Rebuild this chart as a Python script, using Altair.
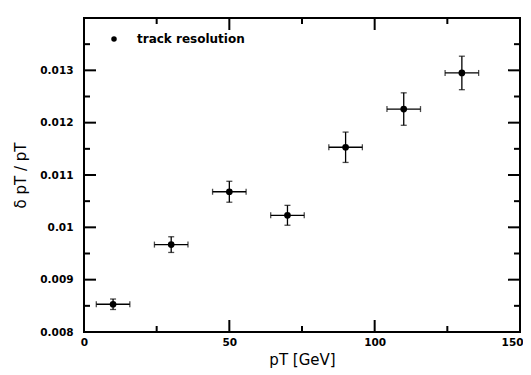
import altair as alt
import pandas as pd

# data
pt = [10, 30, 50, 70, 90, 110, 130]
res = [0.00853, 0.00967, 0.01068, 0.01023, 0.01153, 0.01226, 0.01295]
res_err = [0.00010, 0.00015, 0.00020, 0.00019, 0.00029, 0.00031, 0.00032]
pt_err = [5.77, 5.77, 5.77, 5.77, 5.77, 5.77, 5.77]
series = ["track resolution"] * 7

x_major = [0, 50, 100, 150]
x_minor = [25, 75, 125]
y_major = [0.008, 0.009, 0.010, 0.011, 0.012, 0.013, 0.014]
y_labels = [0.008, 0.009, 0.010, 0.011, 0.012, 0.013]
y_minor = [0.0085, 0.0095, 0.0105, 0.0115, 0.0125, 0.0135]

W, H = 436, 314
MAJ, MIN = 12, 6
FONT = "DejaVu Sans"

df = pd.DataFrame({
    "pt": pt, "res": res, "series": series,
    "ylo": [r - e for r, e in zip(res, res_err)],
    "yhi": [r + e for r, e in zip(res, res_err)],
    "xlo": [p - e for p, e in zip(pt, pt_err)],
    "xhi": [p + e for p, e in zip(pt, pt_err)],
})

xs = alt.Scale(domain=[0, 150], nice=False, zero=False)
ys = alt.Scale(domain=[0.008, 0.014], nice=False, zero=False)
XT = "pT [GeV]"
YT = "δ pT / pT"

XAX = alt.Axis(values=x_major, tickSize=0, domain=False, grid=False,
               labelFont=FONT, labelFontWeight="bold", labelFontSize=10.5,
               labelColor="black", labelPadding=5, labelFlush=False,
               labelAlign=alt.expr("datum.value >= 150 ? 'right' : 'center'"),
               labelOffset=alt.expr("datum.value >= 150 ? 3 : 0"),
               titleFont=FONT, titleFontSize=15, titleFontWeight="normal",
               titleColor="black", titlePadding=5)
YAX = alt.Axis(values=y_labels, format="~g", tickSize=0, domain=False, grid=False,
               labelFont=FONT, labelFontWeight="bold", labelFontSize=10.5,
               labelColor="black", labelPadding=11, labelFlush=False,
               titleFont=FONT, titleFontSize=15, titleFontWeight="normal",
               titleColor="black", titlePadding=11)


def X(field):
    return alt.X(field, scale=xs, axis=XAX, title=XT)


def Y(field):
    return alt.Y(field, scale=ys, axis=YAX, title=YT)


base = alt.Chart(df)

vbar = base.mark_rule(color="black", strokeWidth=1.3).encode(
    x=X("pt:Q"), y=Y("ylo:Q"), y2="yhi:Q")
hbar = base.mark_rule(color="black", strokeWidth=1.3).encode(
    x=X("xlo:Q"), x2="xhi:Q", y=Y("res:Q"))
cap_lo = base.mark_tick(color="black", orient="horizontal", size=6, thickness=1.3).encode(
    x=X("pt:Q"), y=Y("ylo:Q"))
cap_hi = base.mark_tick(color="black", orient="horizontal", size=6, thickness=1.3).encode(
    x=X("pt:Q"), y=Y("yhi:Q"))
cap_l = base.mark_tick(color="black", orient="vertical", size=6, thickness=1.3).encode(
    x=X("xlo:Q"), y=Y("res:Q"))
cap_r = base.mark_tick(color="black", orient="vertical", size=6, thickness=1.3).encode(
    x=X("xhi:Q"), y=Y("res:Q"))

points = base.mark_point(filled=True, size=45, opacity=1, shape="circle").encode(
    x=X("pt:Q"), y=Y("res:Q"),
    color=alt.Color("series:N", scale=alt.Scale(range=["black"]),
                    legend=alt.Legend(title=None, orient="none", legendX=24, legendY=15,
                                      symbolType="circle", symbolSize=30, symbolFillColor="black",
                                      symbolStrokeWidth=0, labelFont=FONT, labelFontSize=12,
                                      labelFontWeight="bold", labelColor="black",
                                      labelOffset=17, padding=0)),
)


def xticks(vals, length):
    d = pd.DataFrame({"t": vals})
    bot = alt.Chart(d).mark_rule(color="black", strokeWidth=2).encode(
        x=X("t:Q"), y=alt.value(H), y2=alt.value(H - length))
    top = alt.Chart(d).mark_rule(color="black", strokeWidth=2).encode(
        x=X("t:Q"), y=alt.value(0), y2=alt.value(length))
    return [bot, top]


def yticks(vals, length):
    d = pd.DataFrame({"t": vals})
    left = alt.Chart(d).mark_rule(color="black", strokeWidth=2).encode(
        y=Y("t:Q"), x=alt.value(0), x2=alt.value(length))
    right = alt.Chart(d).mark_rule(color="black", strokeWidth=2).encode(
        y=Y("t:Q"), x=alt.value(W), x2=alt.value(W - length))
    return [left, right]


layers = (xticks(x_major, MAJ) + xticks(x_minor, MIN) +
          yticks(y_major, MAJ) + yticks(y_minor, MIN) +
          [vbar, hbar, cap_lo, cap_hi, cap_l, cap_r, points])

chart = alt.layer(*layers).properties(
    width=W, height=H,
    autosize=alt.AutoSizeParams(type="none"),
    padding={"left": 76, "top": 10, "right": 3, "bottom": 40},
    background="white",
).configure_view(stroke="black", strokeWidth=2)

chart.save("out.html", embed_options={"renderer": "svg", "actions": False})
